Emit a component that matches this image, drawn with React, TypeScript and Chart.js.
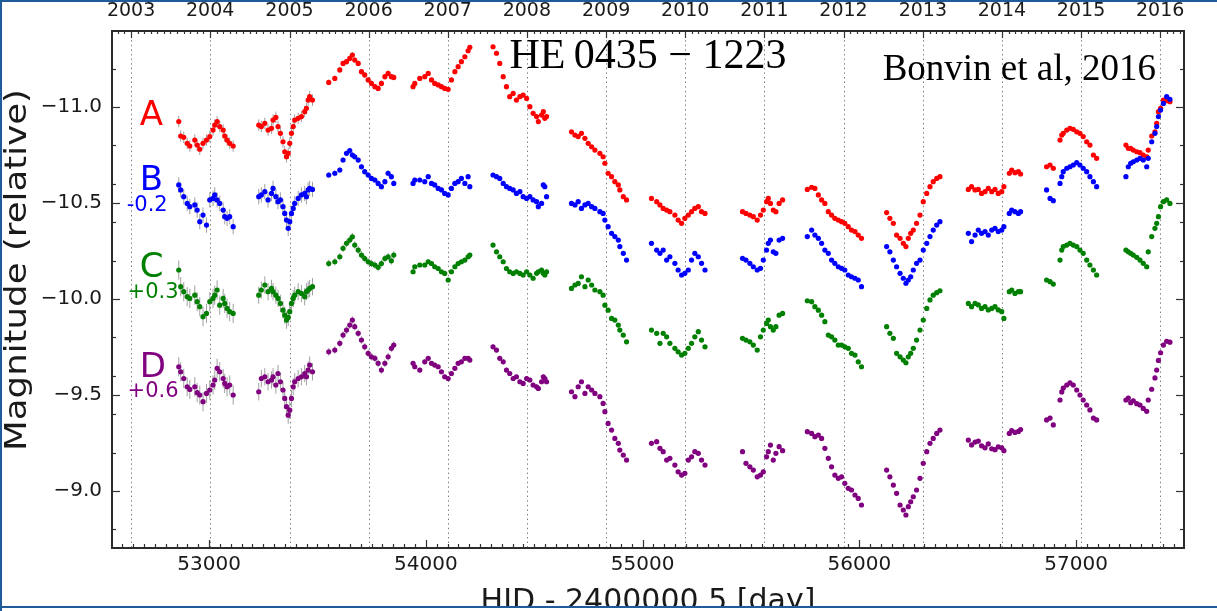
import React, { useEffect, useRef } from "react";
import { Chart, registerables } from "chart.js";

Chart.register(...registerables);

const W = 1217;
const H = 611;

// ---- axes ----
const X_MIN = 52552;
const X_MAX = 57498;
const Y_TOP = -11.396;
const Y_BOTTOM = -8.703;
const X_MAJOR = [53000, 54000, 55000, 56000, 57000];
const X_LABELS = ["53000", "54000", "55000", "56000", "57000"];
const Y_MAJOR = [-11.0, -10.5, -10.0, -9.5, -9.0];
const Y_LABELS = ["\u221211.0", "\u221210.5", "\u221210.0", "\u22129.5", "\u22129.0"];
const Y_MINOR = [-11.2, -10.8, -10.6, -10.4, -10.2, -9.8, -9.6, -9.4, -9.2, -8.8];
const YEARS = [2003, 2004, 2005, 2006, 2007, 2008, 2009, 2010, 2011, 2012, 2013, 2014, 2015, 2016];

// ---- light curves (HJD - 2400000.5, magnitudes as plotted, shifts included) ----
const hjd = [
  52860, 52869, 52883, 52899, 52911, 52934, 52945, 52957, 52972, 52988, 53003, 53018, 53026, 53037, 53049, 53065, 53072, 53083, 53095, 53111,
  53229, 53241, 53257, 53272, 53288, 53295, 53308, 53318, 53329, 53341, 53349, 53357, 53365, 53372, 53380, 53388, 53395, 53411, 53426, 53441, 53449, 53457, 53464, 53477,
  53552, 53580, 53603, 53618, 53634, 53649, 53661, 53672, 53688, 53703, 53718, 53734, 53749, 53765, 53780, 53795, 53811, 53826, 53841, 53852,
  53941, 53949, 53972, 53995, 54011, 54026, 54041, 54057, 54072, 54087, 54103, 54118, 54134, 54149, 54164, 54180, 54195, 54203,
  54310, 54326, 54341, 54357, 54372, 54387, 54403, 54418, 54434, 54449, 54465, 54480, 54495, 54511, 54519, 54534, 54542, 54549, 54557,
  54672, 54688, 54703, 54718, 54734, 54749, 54765, 54780, 54803, 54818, 54826, 54841, 54857, 54872, 54888, 54895, 54911, 54926,
  55041, 55065, 55080, 55095, 55111, 55126, 55149, 55164, 55180, 55195, 55211, 55226, 55241, 55257, 55272, 55288,
  55461, 55477, 55495, 55511, 55529, 55544, 55557, 55572, 55580, 55590, 55603, 55615, 55630, 55646,
  55760, 55780, 55795, 55811, 55826, 55841, 55857, 55872, 55887, 55903, 55918, 55933, 55949, 55964, 55980, 55995, 56010,
  56126, 56141, 56157, 56172, 56188, 56203, 56215, 56226, 56237, 56249, 56264, 56280, 56295, 56311, 56326, 56341, 56357, 56372,
  56503, 56518, 56534, 56549, 56564, 56580, 56595, 56611, 56626, 56641, 56657, 56667, 56692, 56703, 56718, 56734, 56744,
  56864, 56880, 56895, 56926, 56934, 56941, 56957, 56972, 56987, 57003, 57018, 57033, 57049, 57064, 57080, 57095,
  57230, 57241, 57252, 57264, 57280, 57295, 57310, 57326, 57333, 57349, 57364, 57372, 57380, 57390, 57403, 57418, 57433,
];

const magA = [
  -10.924, -10.849, -10.842, -10.811, -10.797, -10.828, -10.802, -10.780, -10.811, -10.828, -10.846, -10.880, -10.906, -10.924, -10.898, -10.880, -10.849, -10.828, -10.811, -10.797,
  -10.906, -10.898, -10.915, -10.880, -10.889, -10.932, -10.946, -10.898, -10.863, -10.819, -10.767, -10.741, -10.759, -10.811, -10.863, -10.898, -10.932, -10.941, -10.950, -10.976, -10.993, -11.036, -11.054, -11.036,
  -11.128, -11.149, -11.193, -11.227, -11.236, -11.253, -11.271, -11.245, -11.227, -11.184, -11.167, -11.141, -11.123, -11.106, -11.097, -11.123, -11.158, -11.175, -11.158, -11.154,
  -11.106, -11.123, -11.149, -11.158, -11.175, -11.141, -11.123, -11.115, -11.106, -11.097, -11.092, -11.141, -11.184, -11.210, -11.236, -11.262, -11.293, -11.311,
  -11.314, -11.280, -11.227, -11.158, -11.106, -11.054, -11.071, -11.036, -11.054, -11.062, -11.045, -11.002, -10.967, -10.950, -10.924, -10.958, -10.976, -10.941, -10.950,
  -10.871, -10.854, -10.846, -10.863, -10.837, -10.811, -10.793, -10.776, -10.759, -10.741, -10.707, -10.655, -10.637, -10.611, -10.594, -10.568, -10.533, -10.516,
  -10.524, -10.507, -10.490, -10.472, -10.463, -10.455, -10.437, -10.411, -10.394, -10.420, -10.437, -10.455, -10.472, -10.481, -10.455, -10.446,
  -10.455, -10.446, -10.437, -10.429, -10.411, -10.437, -10.463, -10.507, -10.524, -10.498, -10.463, -10.455, -10.498, -10.516,
  -10.571, -10.582, -10.576, -10.542, -10.516, -10.498, -10.455, -10.437, -10.420, -10.411, -10.403, -10.394, -10.377, -10.359, -10.351, -10.333, -10.316,
  -10.450, -10.420, -10.394, -10.333, -10.316, -10.290, -10.273, -10.316, -10.342, -10.359, -10.394, -10.437, -10.507, -10.550, -10.585, -10.611, -10.628, -10.637,
  -10.571, -10.585, -10.568, -10.571, -10.550, -10.559, -10.576, -10.559, -10.571, -10.550, -10.559, -10.585, -10.655, -10.672, -10.658, -10.663, -10.651,
  -10.689, -10.698, -10.681, -10.828, -10.854, -10.863, -10.880, -10.889, -10.884, -10.871, -10.863, -10.846, -10.819, -10.802, -10.750, -10.733,
  -10.802, -10.785, -10.785, -10.776, -10.767, -10.762, -10.750, -10.741, -10.776, -10.849, -10.871, -10.915, -10.976, -10.993, -11.036, -11.033, -11.028,
];

const magB = [
  -10.594, -10.568, -10.533, -10.498, -10.481, -10.490, -10.463, -10.403, -10.437, -10.385, -10.516, -10.524, -10.542, -10.516, -10.498, -10.463, -10.429, -10.420, -10.429, -10.377,
  -10.533, -10.542, -10.559, -10.516, -10.550, -10.576, -10.533, -10.507, -10.516, -10.481, -10.446, -10.411, -10.368, -10.403, -10.446, -10.472, -10.498, -10.524, -10.542, -10.550, -10.533, -10.568, -10.576, -10.571,
  -10.646, -10.655, -10.672, -10.724, -10.759, -10.773, -10.750, -10.741, -10.724, -10.689, -10.663, -10.646, -10.628, -10.620, -10.602, -10.585, -10.611, -10.655, -10.637, -10.602,
  -10.602, -10.620, -10.620, -10.611, -10.637, -10.602, -10.594, -10.576, -10.568, -10.550, -10.542, -10.576, -10.602, -10.611, -10.628, -10.602, -10.637, -10.585,
  -10.646, -10.637, -10.628, -10.602, -10.585, -10.576, -10.568, -10.550, -10.559, -10.533, -10.524, -10.533, -10.516, -10.507, -10.481, -10.498, -10.594, -10.585, -10.533,
  -10.498, -10.490, -10.507, -10.472, -10.490, -10.498, -10.481, -10.472, -10.455, -10.446, -10.411, -10.377, -10.342, -10.325, -10.307, -10.273, -10.238, -10.203,
  -10.290, -10.255, -10.238, -10.255, -10.203, -10.220, -10.186, -10.151, -10.125, -10.134, -10.151, -10.203, -10.238, -10.220, -10.186, -10.151,
  -10.212, -10.203, -10.186, -10.168, -10.151, -10.160, -10.203, -10.255, -10.290, -10.307, -10.246, -10.238, -10.307, -10.316,
  -10.325, -10.359, -10.333, -10.316, -10.290, -10.255, -10.238, -10.203, -10.186, -10.168, -10.160, -10.151, -10.125, -10.116, -10.108, -10.099, -10.064,
  -10.273, -10.246, -10.203, -10.168, -10.134, -10.108, -10.082, -10.099, -10.116, -10.151, -10.186, -10.203, -10.255, -10.290, -10.325, -10.359, -10.385, -10.403,
  -10.342, -10.299, -10.333, -10.359, -10.342, -10.351, -10.333, -10.359, -10.368, -10.351, -10.359, -10.377, -10.446, -10.463, -10.455, -10.446, -10.455,
  -10.568, -10.524, -10.512, -10.602, -10.637, -10.663, -10.681, -10.689, -10.698, -10.710, -10.698, -10.681, -10.663, -10.637, -10.611, -10.585,
  -10.637, -10.689, -10.707, -10.715, -10.724, -10.733, -10.724, -10.689, -10.733, -10.819, -10.863, -10.898, -10.950, -10.984, -11.019, -11.054, -11.040,
];

const magC = [
  -10.151, -10.064, -10.038, -10.012, -10.003, -10.020, -9.986, -9.960, -9.908, -9.925, -9.986, -10.003, -10.020, -10.047, -9.968, -10.003, -9.977, -9.951, -9.934, -9.925,
  -10.020, -10.047, -10.073, -10.038, -10.055, -10.038, -10.020, -10.003, -9.977, -9.942, -9.916, -9.890, -9.904, -9.934, -9.977, -10.003, -10.020, -10.038, -10.029, -10.012, -10.038, -10.047, -10.055, -10.064,
  -10.185, -10.194, -10.220, -10.264, -10.290, -10.307, -10.324, -10.281, -10.255, -10.229, -10.211, -10.194, -10.185, -10.177, -10.165, -10.185, -10.211, -10.220, -10.199, -10.229,
  -10.142, -10.168, -10.177, -10.177, -10.194, -10.185, -10.168, -10.159, -10.142, -10.133, -10.099, -10.142, -10.168, -10.185, -10.194, -10.203, -10.220, -10.229,
  -10.281, -10.246, -10.220, -10.194, -10.159, -10.142, -10.133, -10.142, -10.133, -10.125, -10.142, -10.125, -10.108, -10.134, -10.142, -10.151, -10.134, -10.125, -10.142,
  -10.055, -10.073, -10.081, -10.116, -10.064, -10.099, -10.073, -10.047, -10.038, -10.020, -9.968, -9.942, -9.899, -9.890, -9.864, -9.838, -9.812, -9.777,
  -9.838, -9.821, -9.769, -9.821, -9.803, -9.769, -9.743, -9.725, -9.708, -9.717, -9.743, -9.769, -9.803, -9.830, -9.786, -9.751,
  -9.795, -9.786, -9.777, -9.760, -9.734, -9.803, -9.838, -9.873, -9.890, -9.856, -9.838, -9.856, -9.916, -9.925,
  -9.991, -9.986, -9.960, -9.942, -9.916, -9.882, -9.812, -9.803, -9.786, -9.760, -9.760, -9.751, -9.743, -9.717, -9.708, -9.673, -9.647,
  -9.856, -9.821, -9.795, -9.717, -9.699, -9.682, -9.668, -9.699, -9.717, -9.743, -9.786, -9.838, -9.890, -9.951, -9.995, -10.020, -10.033, -10.043,
  -9.977, -9.960, -9.977, -9.969, -9.951, -9.960, -9.943, -9.951, -9.960, -9.943, -9.934, -9.899, -10.038, -10.047, -10.029, -10.038, -10.038,
  -10.099, -10.090, -10.078, -10.203, -10.255, -10.273, -10.281, -10.290, -10.281, -10.273, -10.255, -10.238, -10.203, -10.177, -10.151, -10.125,
  -10.255, -10.246, -10.238, -10.229, -10.217, -10.203, -10.186, -10.168, -10.246, -10.325, -10.368, -10.394, -10.429, -10.481, -10.507, -10.516, -10.498,
];

const magD = [
  -9.647, -9.621, -9.586, -9.543, -9.529, -9.543, -9.512, -9.500, -9.465, -9.508, -9.526, -9.552, -9.578, -9.639, -9.621, -9.586, -9.560, -9.543, -9.552, -9.500,
  -9.517, -9.586, -9.595, -9.569, -9.578, -9.595, -9.552, -9.612, -9.569, -9.526, -9.482, -9.439, -9.395, -9.421, -9.482, -9.543, -9.569, -9.586, -9.595, -9.612, -9.595, -9.630, -9.656, -9.621,
  -9.725, -9.734, -9.769, -9.812, -9.838, -9.864, -9.890, -9.856, -9.821, -9.786, -9.751, -9.717, -9.699, -9.691, -9.665, -9.630, -9.665, -9.699, -9.743, -9.760,
  -9.665, -9.647, -9.630, -9.673, -9.691, -9.665, -9.656, -9.647, -9.621, -9.595, -9.586, -9.612, -9.639, -9.665, -9.673, -9.691, -9.691, -9.682,
  -9.751, -9.734, -9.691, -9.673, -9.630, -9.612, -9.586, -9.595, -9.569, -9.560, -9.586, -9.578, -9.552, -9.543, -9.534, -9.569, -9.595, -9.586, -9.569,
  -9.517, -9.491, -9.543, -9.569, -9.508, -9.543, -9.526, -9.508, -9.491, -9.456, -9.413, -9.352, -9.317, -9.274, -9.248, -9.213, -9.187, -9.161,
  -9.248, -9.257, -9.222, -9.205, -9.161, -9.170, -9.135, -9.100, -9.083, -9.092, -9.161, -9.178, -9.205, -9.196, -9.161, -9.135,
  -9.205, -9.144, -9.126, -9.109, -9.074, -9.083, -9.100, -9.178, -9.205, -9.239, -9.161, -9.196, -9.231, -9.210,
  -9.309, -9.300, -9.283, -9.291, -9.274, -9.222, -9.170, -9.126, -9.083, -9.066, -9.074, -9.040, -9.014, -9.005, -8.979, -8.961, -8.927,
  -9.109, -9.074, -9.031, -8.988, -8.927, -8.901, -8.875, -8.918, -8.944, -8.970, -9.005, -9.066, -9.144, -9.205, -9.248, -9.274, -9.300, -9.317,
  -9.265, -9.240, -9.255, -9.260, -9.235, -9.225, -9.245, -9.220, -9.215, -9.230, -9.225, -9.210, -9.300, -9.315, -9.305, -9.310, -9.320,
  -9.370, -9.380, -9.344, -9.474, -9.516, -9.536, -9.552, -9.563, -9.552, -9.526, -9.500, -9.474, -9.448, -9.422, -9.380, -9.370,
  -9.474, -9.484, -9.460, -9.470, -9.455, -9.448, -9.430, -9.415, -9.474, -9.530, -9.589, -9.630, -9.680, -9.720, -9.760, -9.780, -9.775,
];

// typical photometric error per observing season (13 seasons)
const SEASON_END = [53150, 53500, 53900, 54250, 54600, 54950, 55350, 55700, 56050, 56450, 56800, 57150, 57500];
const errA = [0.03, 0.03, 0.015, 0.01, 0.01, 0.008, 0.008, 0.008, 0.008, 0.008, 0.008, 0.008, 0.01];
const errB = [0.04, 0.04, 0.015, 0.012, 0.012, 0.01, 0.01, 0.01, 0.01, 0.01, 0.01, 0.012, 0.012];
const errC = [0.05, 0.045, 0.02, 0.012, 0.012, 0.01, 0.01, 0.01, 0.01, 0.01, 0.01, 0.012, 0.012];
const errD = [0.05, 0.045, 0.02, 0.012, 0.012, 0.01, 0.01, 0.012, 0.01, 0.01, 0.01, 0.012, 0.012];

const CURVES = [
  { name: "A", mags: magA, errs: errA, color: "#ff0000", order: 4 },
  { name: "B", mags: magB, errs: errB, color: "#0000ff", order: 3 },
  { name: "C", mags: magC, errs: errC, color: "#008000", order: 2 },
  { name: "D", mags: magD, errs: errD, color: "#800080", order: 1 },
];

// curve labels placed in data coordinates (left edge, baseline)
const LABEL_TEXT = ["A", "B", "-0.2", "C", "+0.3", "D", "+0.6"];
const LABEL_X = [52680, 52680, 52620, 52680, 52624, 52680, 52624];
const LABEL_Y = [-10.906, -10.568, -10.456, -10.115, -10.005, -9.594, -9.492];
const LABEL_SIZE = [34, 34, 21, 34, 21, 34, 21];
const LABEL_COLOR = ["#ff0000", "#0000ff", "#0000ff", "#008000", "#008000", "#800080", "#800080"];

const TITLE = "HE\u20090435 \u2212 1223";
const CREDIT = "Bonvin et al, 2016";
const X_TITLE = "HJD - 2400000.5 [day]";
const Y_TITLE = "Magnitude (relative)";

const mjdOf = (y: number, m: number) => Date.UTC(y, m, 1) / 86400000 + 40587;
const YEAR_MJD = YEARS.map((y) => mjdOf(y, 0));

function seasonIndex(t: number) {
  for (let i = 0; i < SEASON_END.length; i++) if (t < SEASON_END[i]) return i;
  return SEASON_END.length - 1;
}

const decor = {
  id: "decor",
  beforeDatasetsDraw(chart: any) {
    const { ctx, chartArea: ca, scales } = chart;
    const xs = scales.x;
    const ys = scales.y;
    ctx.save();
    ctx.beginPath();
    ctx.rect(ca.left, ca.top, ca.right - ca.left, ca.bottom - ca.top);
    ctx.clip();
    // yearly dotted lines
    ctx.strokeStyle = "#7a7a7a";
    ctx.lineWidth = 1;
    ctx.setLineDash([1.4, 3.2]);
    for (const v of YEAR_MJD) {
      const px = Math.round(xs.getPixelForValue(v)) + 0.5;
      ctx.beginPath();
      ctx.moveTo(px, ca.top);
      ctx.lineTo(px, ca.bottom);
      ctx.stroke();
    }
    ctx.setLineDash([]);
    // error bars
    ctx.strokeStyle = "rgba(130,130,130,0.75)";
    ctx.lineWidth = 1;
    for (const ds of chart.data.datasets) {
      for (const p of ds.data) {
        const px = xs.getPixelForValue(p.x);
        ctx.beginPath();
        ctx.moveTo(px, ys.getPixelForValue(p.y - p.e));
        ctx.lineTo(px, ys.getPixelForValue(p.y + p.e));
        ctx.stroke();
      }
    }
    ctx.restore();
  },
  afterDatasetsDraw(chart: any) {
    const { ctx, chartArea: ca, scales } = chart;
    const xs = scales.x;
    const ys = scales.y;
    ctx.save();

    // curve labels
    ctx.textAlign = "left";
    ctx.textBaseline = "alphabetic";
    for (let i = 0; i < LABEL_TEXT.length; i++) {
      ctx.fillStyle = LABEL_COLOR[i];
      ctx.font = `${LABEL_SIZE[i]}px "DejaVu Sans"`;
      ctx.fillText(LABEL_TEXT[i], xs.getPixelForValue(LABEL_X[i]), ys.getPixelForValue(LABEL_Y[i]));
    }

    // title + credit
    ctx.fillStyle = "#000";
    ctx.font = '42px "Liberation Serif"';
    ctx.textAlign = "center";
    ctx.fillText(TITLE, (ca.left + ca.right) / 2, ca.top + 37);
    ctx.font = '37px "Liberation Serif"';
    ctx.textAlign = "right";
    ctx.fillText(CREDIT, ca.right - 28, ca.top + 49);

    // ticks
    ctx.strokeStyle = "#333";
    ctx.lineWidth = 1.2;
    const seg = (x1: number, y1: number, x2: number, y2: number) => {
      ctx.beginPath();
      ctx.moveTo(x1, y1);
      ctx.lineTo(x2, y2);
      ctx.stroke();
    };
    for (const v of Y_MAJOR) {
      const py = Math.round(ys.getPixelForValue(v)) + 0.5;
      seg(ca.left, py, ca.left + 8, py);
      seg(ca.right, py, ca.right - 8, py);
    }
    for (const v of Y_MINOR) {
      const py = Math.round(ys.getPixelForValue(v)) + 0.5;
      seg(ca.left, py, ca.left + 4, py);
      seg(ca.right, py, ca.right - 4, py);
    }
    for (let v = 52600; v <= X_MAX; v += 50) {
      const px = Math.round(xs.getPixelForValue(v)) + 0.5;
      const major = v % 1000 === 0;
      seg(px, ca.bottom, px, ca.bottom - (major ? 8 : 4));
    }
    for (let y = 2002; y <= 2017; y++) {
      for (let m = 0; m < 12; m++) {
        const v = mjdOf(y, m);
        if (v <= X_MIN || v >= X_MAX) continue;
        const px = Math.round(xs.getPixelForValue(v)) + 0.5;
        seg(px, ca.top, px, ca.top + (m === 0 ? 7 : 3));
      }
    }

    // spines
    ctx.strokeStyle = "#2b2b2b";
    ctx.lineWidth = 2;
    ctx.strokeRect(ca.left, ca.top, ca.right - ca.left, ca.bottom - ca.top);

    // axis titles
    ctx.fillStyle = "#1a1a1a";
    ctx.save();
    ctx.beginPath();
    ctx.rect(0, 0, W, 606);
    ctx.clip();
    ctx.font = '30px "DejaVu Sans"';
    ctx.textAlign = "center";
    ctx.textBaseline = "alphabetic";
    ctx.fillText(X_TITLE, (ca.left + ca.right) / 2, 610);
    ctx.restore();

    ctx.save();
    ctx.font = '31px "DejaVu Sans"';
    const w = ctx.measureText(Y_TITLE).width;
    ctx.translate(26, 270);
    ctx.rotate(-Math.PI / 2);
    ctx.scale(362 / w, 1);
    ctx.textAlign = "center";
    ctx.textBaseline = "alphabetic";
    ctx.fillText(Y_TITLE, 0, 0);
    ctx.restore();

    // outer frame
    ctx.fillStyle = "#1f5c99";
    ctx.fillRect(0, 0, W, 2);
    ctx.fillRect(0, 0, 2, H);
    ctx.fillRect(0, 606, W, 2);

    ctx.restore();
  },
};

export default function App() {
  const ref = useRef<HTMLCanvasElement | null>(null);
  useEffect(() => {
    document.body.style.margin = "0";
    const canvas = ref.current;
    if (!canvas) return;
    const datasets = CURVES.map((c) => ({
      label: c.name,
      data: hjd.map((t, i) => ({ x: t, y: c.mags[i], e: c.errs[seasonIndex(t)] })),
      backgroundColor: c.color,
      borderColor: c.color,
      borderWidth: 0,
      pointRadius: 2.6,
      pointHoverRadius: 2.6,
      showLine: false,
      order: c.order,
    }));
    const tickFont = { family: "DejaVu Sans", size: 20 };
    const chart = new Chart(canvas, {
      type: "scatter",
      data: { datasets },
      plugins: [decor],
      options: {
        animation: false,
        responsive: false,
        maintainAspectRatio: false,
        events: [],
        layout: { padding: { left: 0, right: 33, top: 0, bottom: 0 } },
        plugins: { legend: { display: false }, tooltip: { enabled: false }, title: { display: false } },
        scales: {
          x: {
            type: "linear",
            position: "bottom",
            min: X_MIN,
            max: X_MAX,
            grid: { display: false, drawTicks: false },
            border: { display: false },
            afterBuildTicks: (s: any) => {
              s.ticks = X_MAJOR.map((v) => ({ value: v }));
            },
            afterFit: (s: any) => {
              s.height = 63;
            },
            ticks: {
              autoSkip: false,
              maxRotation: 0,
              minRotation: 0,
              padding: 5,
              color: "#1a1a1a",
              font: tickFont,
              callback: (v: any) => X_LABELS[X_MAJOR.indexOf(Number(v))] ?? "",
            },
          },
          x2: {
            type: "linear",
            axis: "x",
            position: "top",
            min: X_MIN,
            max: X_MAX,
            grid: { display: false, drawTicks: false },
            border: { display: false },
            afterBuildTicks: (s: any) => {
              s.ticks = YEAR_MJD.map((v) => ({ value: v }));
            },
            afterFit: (s: any) => {
              s.height = 31;
            },
            ticks: {
              autoSkip: false,
              maxRotation: 0,
              minRotation: 0,
              padding: 9,
              color: "#1a1a1a",
              font: { family: "DejaVu Sans", size: 19 },
              callback: (v: any) => {
                const i = YEAR_MJD.indexOf(Number(v));
                return i >= 0 ? String(YEARS[i]) : "";
              },
            },
          },
          y: {
            type: "linear",
            position: "left",
            reverse: true,
            min: Y_TOP,
            max: Y_BOTTOM,
            grid: { display: false, drawTicks: false },
            border: { display: false },
            afterBuildTicks: (s: any) => {
              s.ticks = Y_MAJOR.map((v) => ({ value: v }));
            },
            afterFit: (s: any) => {
              s.width = 112;
            },
            ticks: {
              autoSkip: false,
              padding: 10,
              color: "#1a1a1a",
              font: tickFont,
              callback: (v: any) => {
                const i = Y_MAJOR.findIndex((m) => Math.abs(m - Number(v)) < 1e-6);
                return i >= 0 ? Y_LABELS[i] : "";
              },
            },
          },
        },
      } as any,
    });
    return () => chart.destroy();
  }, []);
  return (
    <div style={{ width: W, height: H, position: "relative", background: "#fff" }}>
      <canvas ref={ref} width={W} height={H} style={{ display: "block", width: W, height: H }} />
    </div>
  );
}
